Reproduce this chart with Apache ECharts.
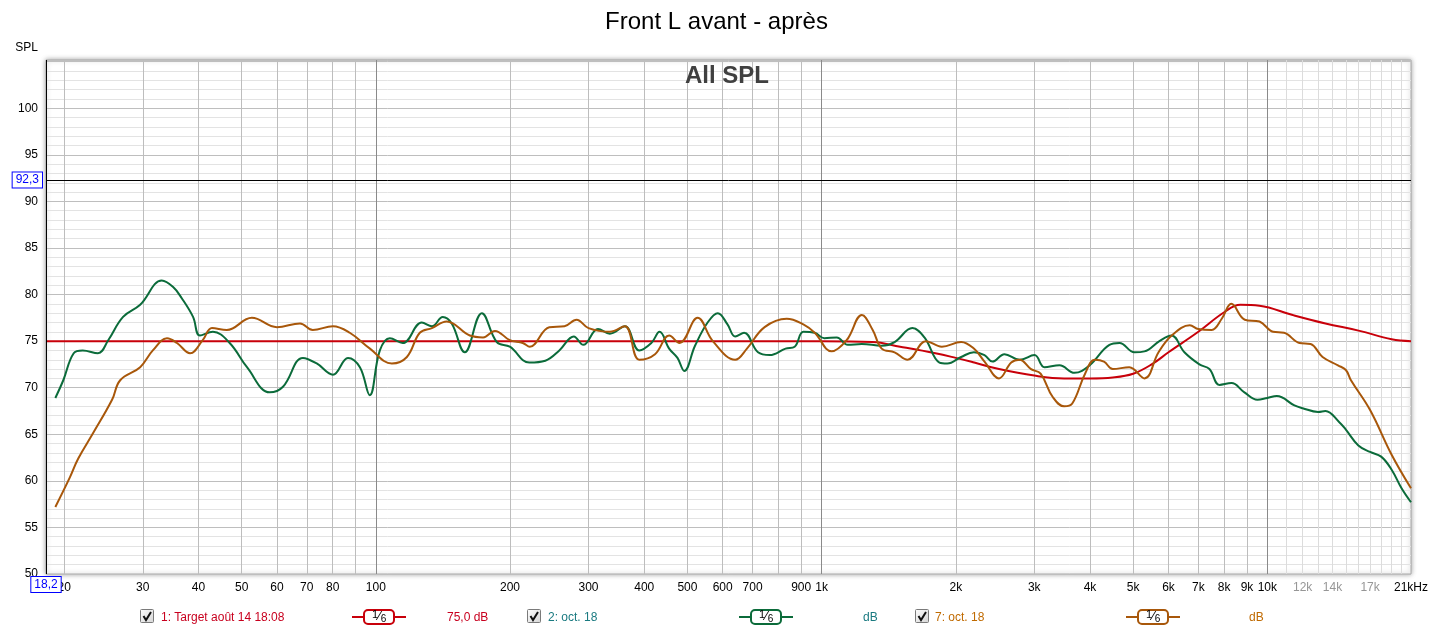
<!DOCTYPE html>
<html><head><meta charset="utf-8">
<script src="https://cdn.jsdelivr.net/npm/echarts@6/dist/echarts.min.js"></script>
<style>html,body{margin:0;padding:0;background:#fff}#c{width:1433px;height:632px}</style>
</head><body><div id="c"></div>
<script>
const titleText = 'Front L avant - après';
const subTitleText = 'All SPL';
const yName = 'SPL';

const targetFreq = [18.2, 1000, 1300, 1500, 1800, 2000, 2200, 2500, 3000, 3500, 4000, 4500, 5000, 5500, 6000, 7000, 8000, 8700, 9600, 11400, 13500, 16100, 19000, 21000];
const targetDb   = [75.0, 75.0, 74.9, 74.4, 73.7, 73.2, 72.7, 72.0, 71.3, 71.0, 71.0, 71.1, 71.5, 72.5, 73.8, 76.0, 78.1, 78.9, 78.8, 77.8, 76.9, 76.1, 75.2, 75.0];

const greenFreq = [19.1, 19.9, 21.0, 22.0, 23.8, 25.1, 27.1, 29.6, 33.1, 35.1, 36.7, 38.9, 40.3, 43.1, 47.0, 51.4, 57.8, 61.9, 68.6, 73.7, 80.1, 86.6, 92.1, 96.9, 102.1, 107.5, 114.9, 126.8, 133.6, 141.3, 148.0, 158.3, 172.9, 186.8, 199.8, 221, 240, 258, 278, 292, 315, 335, 362, 390, 415, 433, 455, 475, 492, 520, 555, 585, 615, 640, 670, 720, 765, 830, 870, 910, 965, 1014, 1081, 1145, 1231, 1364, 1458, 1598, 1701, 1838, 1914, 2056, 2196, 2320, 2417, 2572, 2779, 3003, 3162, 3417, 3692, 3990, 4423, 4658, 5032, 5300, 5726, 6093, 6515, 7039, 7413, 7807, 8306, 8881, 9497, 10000, 10500, 11500, 12000, 13000, 13500, 14500, 15000, 16000, 17000, 18000, 19000, 20000, 21000];
const greenDb   = [68.9, 70.8, 73.7, 74.0, 73.7, 75.1, 77.6, 78.9, 81.5, 80.8, 79.6, 77.6, 75.6, 76.0, 74.8, 72.2, 69.5, 70.1, 73.2, 72.6, 71.4, 73.2, 72.2, 69.2, 74.0, 75.3, 74.8, 77.0, 76.6, 77.6, 76.9, 73.8, 78.0, 74.9, 74.4, 72.7, 72.9, 74.0, 75.5, 74.6, 76.3, 75.8, 76.6, 74.0, 74.8, 76.0, 74.2, 73.2, 71.8, 74.5, 77.0, 78.0, 76.8, 75.5, 75.9, 73.8, 73.5, 74.2, 74.4, 76.0, 75.9, 75.3, 75.4, 74.6, 74.7, 74.5, 74.9, 76.4, 75.4, 72.7, 72.6, 73.3, 73.8, 73.5, 72.8, 73.6, 73.0, 73.5, 72.2, 72.4, 71.6, 72.4, 74.6, 74.8, 73.8, 73.9, 75.0, 75.6, 73.8, 72.5, 72.0, 70.3, 70.5, 69.5, 68.7, 68.9, 69.1, 68.1, 67.8, 67.4, 67.5, 66.3, 65.5, 63.8, 63.1, 62.6, 61.2, 59.2, 57.7];

const brownFreq = [19.1, 20.6, 21.5, 23.2, 25.6, 26.7, 29.6, 31.6, 34.0, 35.8, 38.3, 40.9, 42.9, 46.3, 52.7, 60.0, 67.6, 72.2, 80.1, 87.4, 97.0, 108.6, 117.4, 125.5, 133.6, 144.2, 162.5, 174.0, 185.0, 199.8, 213.6, 221.5, 245, 265, 282, 300, 335, 362, 390, 423, 455, 480, 527, 570, 640, 680, 745, 835, 910, 965, 1053, 1138, 1231, 1302, 1364, 1458, 1559, 1714, 1861, 2056, 2196, 2320, 2500, 2663, 2779, 2950, 3100, 3300, 3500, 3650, 3900, 4100, 4300, 4500, 4900, 5300, 5700, 6100, 6700, 7000, 7500, 7900, 8300, 8900, 9600, 10300, 10900, 11800, 12500, 13300, 14400, 15000, 15400, 17000, 19000, 21000];
const brownDb   = [57.2, 60.4, 62.4, 65.1, 68.7, 70.8, 72.2, 74.0, 75.3, 74.8, 73.7, 75.1, 76.4, 76.2, 77.5, 76.5, 76.9, 76.2, 76.6, 75.9, 74.2, 72.6, 73.3, 75.9, 76.4, 77.1, 75.6, 75.4, 76.1, 75.1, 74.8, 74.4, 76.5, 76.6, 77.3, 76.4, 76.0, 76.6, 73.0, 73.6, 75.6, 74.8, 77.5, 75.0, 73.0, 74.2, 76.5, 77.4, 76.8, 75.9, 73.9, 75.1, 77.8, 76.2, 74.2, 73.8, 73.0, 75.0, 74.4, 74.9, 74.2, 72.8, 71.0, 72.7, 73.0, 72.0, 71.5, 69.0, 68.0, 68.3, 71.5, 73.0, 72.8, 72.0, 72.2, 71.0, 73.8, 75.6, 76.7, 76.3, 76.2, 77.4, 79.0, 77.3, 77.1, 76.0, 75.9, 74.8, 74.7, 73.3, 72.4, 71.9, 70.8, 67.6, 62.8, 59.2];

const tickFreqs = [20, 30, 40, 50, 60, 70, 80, 100, 200, 300, 400, 500, 600, 700, 900, 1000, 2000, 3000, 4000, 5000, 6000, 7000, 8000, 9000, 10000, 12000, 14000, 17000, 21000];
const tickTexts = ['20', '30', '40', '50', '60', '70', '80', '100', '200', '300', '400', '500', '600', '700', '900', '1k', '2k', '3k', '4k', '5k', '6k', '7k', '8k', '9k', '10k', '12k', '14k', '17k', '21kHz'];
const grayTickTexts = ['12k', '14k', '17k'];
const gridFreqs = [20, 30, 40, 50, 60, 70, 80, 90, 200, 300, 400, 500, 600, 700, 800, 900, 2000, 3000, 4000, 5000, 6000, 7000, 8000, 9000];
const decadeFreqs = [100, 1000, 10000];
const fineFreqs = [11000, 12000, 13000, 14000, 15000, 16000, 17000, 18000, 19000, 20000];
const yLabels = [50, 55, 60, 65, 70, 75, 80, 85, 90, 95, 100];

const cursorFreq = 18.2, cursorFreqText = '18,2';
const cursorDb = 92.3, cursorDbText = '92,3';

const legendNames = ['1: Target août 14 18:08', '2: oct. 18', '7: oct. 18'];
const legendValues = ['75,0 dB', 'dB', 'dB'];
const smoothText = ['1', '\u2044', '6'];

const FONT = '"Liberation Sans", Arial, sans-serif';
const lineColors = ['#c8000a', '#0b6b3a', '#a8570a'];
const textColors = ['#c8001e', '#1a7a80', '#c06a00'];

const zip = (f, d) => f.map((v, i) => [v, d[i]]);

const xBase = { type: 'log', logBase: 10, min: 18.2, max: 21000, gridIndex: 0, position: 'bottom' };
const hiddenX = (vals, color) => Object.assign({}, xBase, {
  axisLine: { show: false }, axisLabel: { show: false },
  axisTick: { show: false, customValues: vals },
  splitLine: { show: true, lineStyle: { color: color, width: 1 } }
});

const chart = echarts.init(document.getElementById('c'), null, { renderer: 'canvas' });

const lg = [];
const boxX = [140, 527, 915], nameX = [161, 548, 935], smoothC = [379, 766, 1153], valX = [447, 863, 1249];
const LY = 617;
for (let i = 0; i < 3; i++) {
  lg.push({ type: 'rect', shape: { x: boxX[i] + 0.5, y: LY - 7.5, width: 13, height: 13, r: 1 },
    style: { fill: new echarts.graphic.LinearGradient(0, 0, 1, 1, [{ offset: 0, color: '#ffffff' }, { offset: 1, color: '#d4d4d4' }]), stroke: '#7a7a7a', lineWidth: 1 } });
  lg.push({ type: 'polyline', shape: { points: [[boxX[i] + 3.5, LY - 1], [boxX[i] + 6, LY + 3], [boxX[i] + 11, LY - 5]] },
    style: { stroke: '#111', lineWidth: 2, fill: null } });
  lg.push({ type: 'text', style: { text: legendNames[i], x: nameX[i], y: LY + 1, fill: textColors[i], font: '12px ' + FONT, textAlign: 'left', textVerticalAlign: 'middle', align: 'left', verticalAlign: 'middle' } });
  lg.push({ type: 'line', shape: { x1: smoothC[i] - 27, y1: LY, x2: smoothC[i] + 27, y2: LY }, style: { stroke: lineColors[i], lineWidth: 2 } });
  lg.push({ type: 'rect', shape: { x: smoothC[i] - 15, y: LY - 7, width: 30, height: 14, r: 4 }, style: { fill: '#fff', stroke: lineColors[i], lineWidth: 2 } });
  lg.push({ type: 'text', style: { text: smoothText[0], x: smoothC[i] - 4, y: LY - 2, fill: '#000', font: '11px ' + FONT, textAlign: 'center', textVerticalAlign: 'middle', align: 'center', verticalAlign: 'middle' } });
  lg.push({ type: 'text', style: { text: smoothText[1], x: smoothC[i], y: LY, fill: '#000', font: '12px "DejaVu Sans"', textAlign: 'center', textVerticalAlign: 'middle', align: 'center', verticalAlign: 'middle' } });
  lg.push({ type: 'text', style: { text: smoothText[2], x: smoothC[i] + 4.5, y: LY + 2, fill: '#000', font: '10px ' + FONT, textAlign: 'center', textVerticalAlign: 'middle', align: 'center', verticalAlign: 'middle' } });
  lg.push({ type: 'text', style: { text: legendValues[i], x: valX[i], y: LY + 1, fill: textColors[i], font: '12px ' + FONT, textAlign: 'left', textVerticalAlign: 'middle', align: 'left', verticalAlign: 'middle' } });
}
lg.push({ type: 'text', z: 100, style: { text: subTitleText, x: 727, y: 76, fill: '#404040', font: 'bold 24px ' + FONT, textAlign: 'center', textVerticalAlign: 'middle', align: 'center', verticalAlign: 'middle' } });

const cursorLabel = { show: true, color: '#0000ff', fontSize: 12, fontFamily: FONT, borderColor: '#0000ff', borderWidth: 1, padding: [2, 3, 1, 3], backgroundColor: '#fff' };

chart.setOption({
  animation: false,
  backgroundColor: '#fff',
  title: { text: titleText, left: 'center', top: 5, textStyle: { fontSize: 24, fontWeight: 'normal', color: '#000', fontFamily: FONT } },
  grid: { left: 46, right: 22, top: 60, bottom: 58, show: true, backgroundColor: '#fff', borderColor: '#a8a8a8', borderWidth: 1,
    shadowBlur: 5, shadowColor: 'rgba(0,0,0,0.35)' },
  xAxis: [
    Object.assign({}, xBase, {
      axisLine: { show: false },
      axisTick: { show: false, customValues: gridFreqs },
      axisLabel: { show: true, customValues: tickFreqs, margin: 8, fontSize: 12, fontFamily: FONT, color: '#000',
        formatter: v => { let k = -1; tickFreqs.forEach((t, i) => { if (Math.abs(t - v) / t < 1e-3) k = i; }); const s = k >= 0 ? tickTexts[k] : ''; return grayTickTexts.includes(s) ? '{g|' + s + '}' : s; },
        rich: { g: { color: '#969696', fontSize: 12, fontFamily: FONT } } },
      splitLine: { show: true, lineStyle: { color: '#bdbdbd', width: 1 } }
    }),
    hiddenX(fineFreqs, '#dcdcdc'),
    hiddenX(decadeFreqs, '#8a8a8a')
  ],
  yAxis: {
    type: 'value', min: 50, max: 105.18, interval: 5,
    name: yName, nameLocation: 'end', nameGap: 6,
    nameTextStyle: { align: 'right', color: '#000', fontSize: 12, fontFamily: FONT, padding: [0, 8, 0, 0] },
    axisLine: { show: false }, axisTick: { show: false },
    axisLabel: { customValues: yLabels, color: '#000', fontSize: 12, fontFamily: FONT, margin: 8 },
    splitLine: { lineStyle: { color: '#bebebe' } },
    minorTick: { show: false, splitNumber: 5 },
    minorSplitLine: { show: true, lineStyle: { color: '#e3e3e3' } }
  },
  graphic: lg,
  series: [
    { type: 'line', name: legendNames[0], data: zip(targetFreq, targetDb), showSymbol: false, smooth: 0.4, z: 3,
      lineStyle: { color: lineColors[0], width: 2 },
      markLine: { silent: true, symbol: 'none', animation: false,
        lineStyle: { color: '#000', width: 1, type: 'solid' },
        data: [
          { xAxis: cursorFreq, label: Object.assign({}, cursorLabel, { position: 'start', distance: 3, formatter: cursorFreqText }) },
          { yAxis: cursorDb, label: Object.assign({}, cursorLabel, { position: 'start', distance: 4, formatter: cursorDbText }) }
        ] } },
    { type: 'line', name: legendNames[1], data: zip(greenFreq, greenDb), showSymbol: false, smooth: 0.4, z: 4,
      lineStyle: { color: lineColors[1], width: 2 } },
    { type: 'line', name: legendNames[2], data: zip(brownFreq, brownDb), showSymbol: false, smooth: 0.4, z: 5,
      lineStyle: { color: lineColors[2], width: 2 } }
  ]
});
</script></body></html>
